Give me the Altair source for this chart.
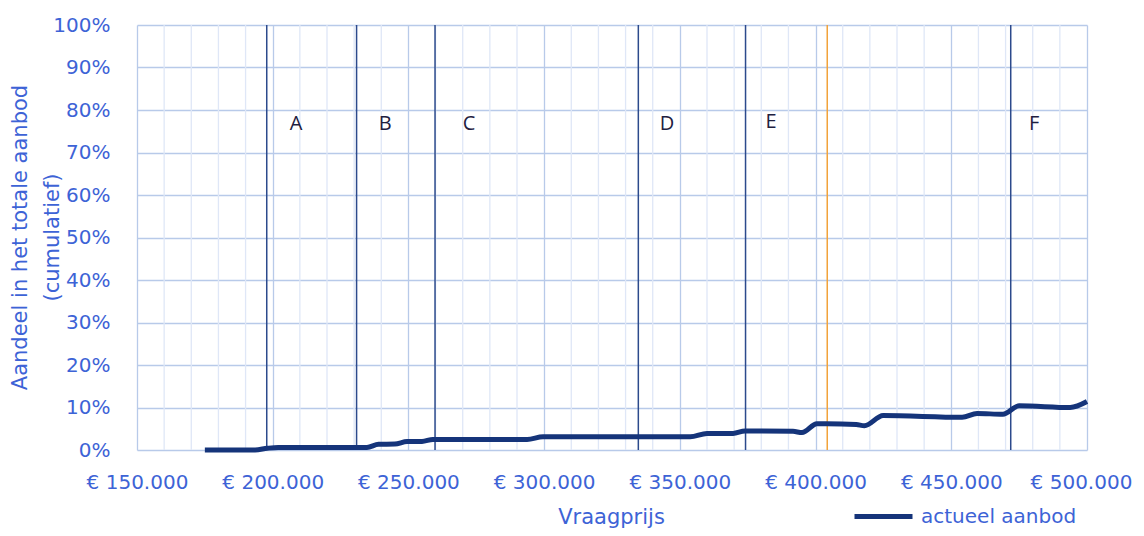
import altair as alt
import pandas as pd

# cumulative share line
prices = [175000, 193500, 198000, 202000, 234700, 239000, 245000, 249500, 255000,
          259000, 293700, 299600, 353800, 360000, 369600, 374000, 391700, 395000,
          400500, 404000, 415000, 418000, 424900, 454000, 459500, 469000, 475000,
          493800, 500000]
shares = [0.0, 0.0, 0.004, 0.006, 0.006, 0.0135, 0.014, 0.020, 0.020,
          0.025, 0.025, 0.031, 0.031, 0.039, 0.039, 0.045, 0.044, 0.041,
          0.062, 0.062, 0.060, 0.057, 0.081, 0.077, 0.086, 0.084, 0.104,
          0.100, 0.114]
series_name = "actueel aanbod"

# segment boundaries
seg_x = [197800, 230900, 259800, 334700, 374200, 471900]
mid_x = [404300]

# segment labels
letters = ["A", "B", "C", "D", "E", "F"]
letter_x = [208600, 241400, 272300, 345300, 383600, 480500]
letter_y = [0.767, 0.767, 0.767, 0.767, 0.772, 0.767]

x_major = list(range(150000, 500001, 50000))
x_minor = [v for v in range(150000, 500001, 10000) if v % 50000 != 0]
y_ticks = [i / 10 for i in range(11)]

BLUE = "#3d63d6"
FONT = "DejaVu Sans"

line_df = pd.DataFrame({"prijs": prices, "aandeel": shares, "reeks": series_name})
seg_df = pd.DataFrame({"x": seg_x})
mid_df = pd.DataFrame({"x": mid_x})
minor_df = pd.DataFrame({"x": x_minor})
let_df = pd.DataFrame({"label": letters, "x": letter_x, "y": letter_y})

xscale = alt.Scale(domain=[150000, 500000], nice=False, zero=False)
yscale = alt.Scale(domain=[0, 1], nice=False)

x_axis = alt.Axis(
    values=x_major,
    labelExpr="'€ ' + replace(format(datum.value, ','), ',', '.')",
    gridColor="#b8cae9", gridWidth=1.3,
    ticks=False, domain=False,
    labelFontSize=20, labelColor=BLUE, labelFont=FONT, labelPadding=22,
    labelOffset=alt.condition("datum.value === 500000", alt.value(-6), alt.value(0)),
    labelOverlap=False, labelFlush=False, labelBound=False,
    title="Vraagprijs", titleFontSize=21, titleColor=BLUE, titleFont=FONT,
    titleFontWeight="normal", titleX=474, titleY=73, titleBaseline="alphabetic",
)
y_axis = alt.Axis(
    values=y_ticks, format=".0%",
    gridColor="#b8cae9", gridWidth=1.3,
    ticks=False, domain=False,
    labelFontSize=20, labelColor=BLUE, labelFont=FONT, labelPadding=27,
    title=["Aandeel in het totale aanbod", "(cumulatief)"],
    titleFontSize=21, titleColor=BLUE, titleFont=FONT, titleFontWeight="normal",
    titleLineHeight=32, titleX=-117, titleY=212, titleAlign="center",
    titleBaseline="middle", titleAngle=270,
)

minor_grid = alt.Chart(minor_df).mark_rule(color="#dfe7f7", strokeWidth=1.3).encode(
    x=alt.X("x:Q", scale=xscale))

base_line = alt.Chart(line_df).mark_line(strokeWidth=5, interpolate="monotone").encode(
    x=alt.X("prijs:Q", scale=xscale, axis=x_axis),
    y=alt.Y("aandeel:Q", scale=yscale, axis=y_axis),
    color=alt.Color("reeks:N", scale=alt.Scale(range=["#15347a"]),
                    legend=alt.Legend(title=None, orient="none", legendX=715, legendY=460,
                                      symbolType="stroke", symbolSize=3364,
                                      symbolStrokeWidth=5, labelFontSize=20,
                                      labelColor=BLUE, labelFont=FONT, labelOffset=6)),
)

rules = alt.Chart(seg_df).mark_rule(color="#2c4a8c", strokeWidth=1.5).encode(x=alt.X("x:Q", scale=xscale))
mid_rule = alt.Chart(mid_df).mark_rule(color="#f2a33a", strokeWidth=1.5).encode(x=alt.X("x:Q", scale=xscale))
texts = alt.Chart(let_df).mark_text(fontSize=20, font="Open Sans", color="#1e2040").encode(
    x=alt.X("x:Q", scale=xscale), y=alt.Y("y:Q", scale=yscale), text="label:N")

chart = alt.layer(minor_grid, rules, mid_rule, base_line, texts).properties(
    width=950, height=425,
    autosize=alt.AutoSizeParams(type="none"),
    padding={"left": 129, "top": 17, "right": 49, "bottom": 78},
).configure_view(stroke=None)

chart.save("out.html", embed_options={"renderer": "svg", "actions": False})
